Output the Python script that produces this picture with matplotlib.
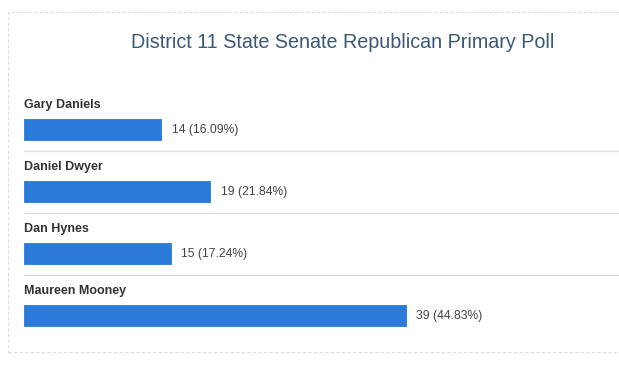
import matplotlib
matplotlib.use("Agg")
import matplotlib.pyplot as plt
from matplotlib.patches import Rectangle

candidates = ["Gary Daniels", "Daniel Dwyer", "Dan Hynes", "Maureen Mooney"]
votes = [14, 19, 15, 39]
percents = [16.09, 21.84, 17.24, 44.83]
title = "District 11 State Senate Republican Primary Poll"

W, H = 619, 366
fig = plt.figure(figsize=(W / 100, H / 100), dpi=100)
plt.rcParams['font.family'] = ['Liberation Sans', 'DejaVu Sans']

# dashed outer border
fig.patches.append(Rectangle((8 / W, 1 - 352 / H), (W + 10) / W, (352 - 11.5) / H,
                             transform=fig.transFigure, fill=False,
                             edgecolor='#dcdcdc', linestyle=(0, (3, 2)), linewidth=0.8))

fig.text(343 / W, 1 - 48 / H, title, ha='center', va='baseline',
         fontsize=14.2, color='#3b5877')

# axes: x from px 24 to 619, y from px 80 to 352
top_px, bot_px = 80, 352
ax = fig.add_axes([24 / W, 1 - bot_px / H, (W - 24) / W, (bot_px - top_px) / H])
px_per_unit = (406 - 24) / 39
ax.set_xlim(0, (W - 24) / px_per_unit)
row_px = 62
c0 = 129.8
ax.set_ylim((bot_px - c0) / row_px, (top_px - c0) / row_px)
ax.axis('off')

bar_h = 21 / row_px
ys = list(range(len(candidates)))
ax.barh(ys, votes, height=bar_h, color='#2a7bd9', edgecolor='#2a7bd9',
        linewidth=0.6, joinstyle='round')

for i, (name, v, p) in enumerate(zip(candidates, votes, percents)):
    ax.text(0, i - 25 / row_px, name, ha='left', va='center', fontsize=9,
            fontweight='bold', color='#333333')
    ax.text(v + 10.5 / px_per_unit, i, f"{v} ({p:.2f}%)", ha='left', va='center',
            fontsize=8.7, color='#444444')
    if i < len(candidates) - 1:
        ax.axhline(i + 21.5 / row_px, color='#dddddd', linewidth=0.9)

fig.savefig("out.png", dpi=100)
